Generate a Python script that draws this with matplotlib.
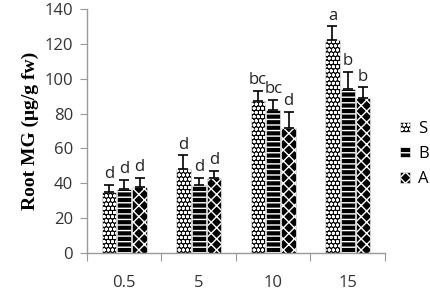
import matplotlib
matplotlib.use("Agg")
import matplotlib.pyplot as plt
import numpy as np

categories = ["0.5", "5", "10", "15"]
series = ["S", "B", "A"]
S_vals = [35, 48, 87, 122]
B_vals = [37, 39, 82, 94]
A_vals = [38, 43, 72, 89]
S_err = [4, 8, 6, 8]
B_err = [5, 4, 6, 10]
A_err = [5, 4, 9, 6]
S_let = ["d", "d", "bc", "a"]
B_let = ["d", "d", "bc", "b"]
A_let = ["d", "d", "d", "b"]

vals = [S_vals, B_vals, A_vals]
errs = [S_err, B_err, A_err]
lets = [S_let, B_let, A_let]
hatches = ["oooo", "---", "xxx"]

fig = plt.figure(figsize=(4.31, 2.93), dpi=100)
ax = fig.add_axes([87/431, 1-253/293, 298/431, 244/293])

x = np.arange(len(categories))
w = 0.205
font = "Open Sans"
fs = 12
for i, (v, e, l, h) in enumerate(zip(vals, errs, lets, hatches)):
    pos = x + (i - 1) * w
    ax.bar(pos, v, w * 0.93, color="black", edgecolor="white", hatch=h,
           linewidth=0.4, label=series[i], zorder=2)
    ax.errorbar(pos, v, yerr=[np.zeros(len(e)), e], fmt="none", ecolor="black",
                elinewidth=1.2, capsize=3.5, capthick=1.2, zorder=3)
    for p, vv, ee, ll in zip(pos, v, e, l):
        ax.text(p, vv + ee + 1.5, ll, ha="center", va="bottom", fontsize=fs,
                family=font, color="#222222")

ax.set_xlim(-0.5, len(categories) - 0.5)
ax.set_ylim(0, 140)
ax.set_yticks(np.arange(0, 141, 20))
ax.tick_params(axis="y", labelsize=fs, length=5, color="#999999", labelcolor="#333333", pad=5)
for t in ax.get_yticklabels():
    t.set_family(font)
ax.set_xticks(np.arange(-0.5, len(categories), 1), minor=False)
ax.set_xticklabels([])
ax.set_xticks(x, minor=True)
ax.set_xticklabels(categories, minor=True, family=font, fontsize=fs, color="#333333")
ax.tick_params(axis="x", which="major", length=6, color="#999999")
ax.tick_params(axis="x", which="minor", length=0, pad=16)
for s in ["top", "right"]:
    ax.spines[s].set_visible(False)
for s in ["left", "bottom"]:
    ax.spines[s].set_color("#999999")
    ax.spines[s].set_linewidth(1.0)

ax.set_ylabel("Root MG (μg/g fw)", family="Liberation Serif", fontweight="bold",
              fontsize=14, labelpad=4)

leg = fig.legend(loc="center left", bbox_to_anchor=(400/431, 1-154/293), frameon=False,
                 prop={"family": font, "size": fs}, handlelength=0.6, handleheight=0.6,
                 handletextpad=0.5, labelspacing=0.55, borderpad=0, borderaxespad=0)

fig.savefig("out.png", dpi=100)
